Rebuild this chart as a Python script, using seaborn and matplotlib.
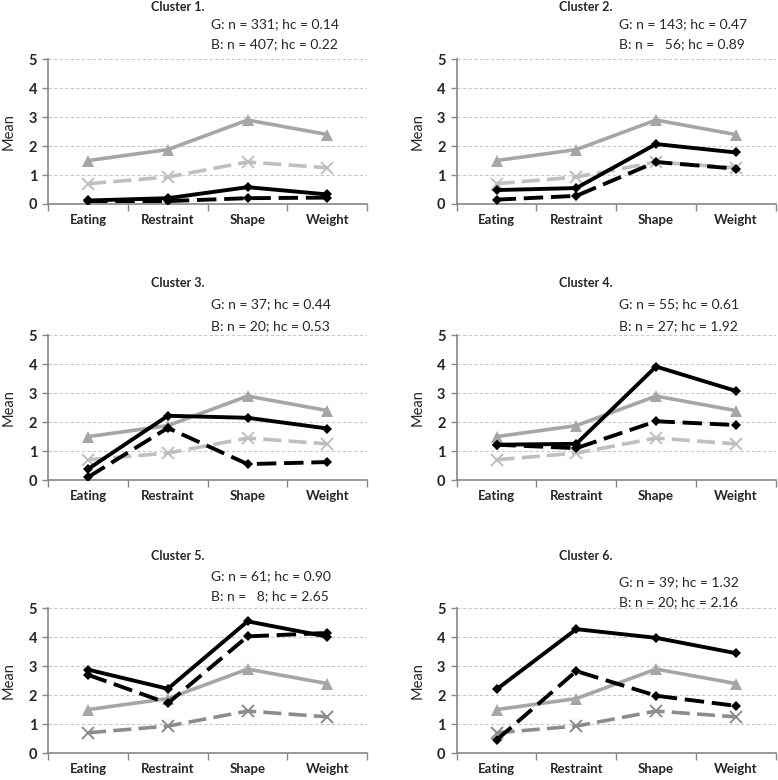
import matplotlib
matplotlib.use("Agg")
import matplotlib.pyplot as plt
import numpy as np
import pandas as pd
import seaborn as sns

# Data
categories = ["Eating", "Restraint", "Shape", "Weight"]
ref_solid = [1.50, 1.88, 2.90, 2.40]      # grey triangles (reference G)
ref_dashed = [0.70, 0.93, 1.45, 1.25]     # grey crosses (reference B)

cluster_titles = ["Cluster 1.", "Cluster 2.", "Cluster 3.",
                  "Cluster 4.", "Cluster 5.", "Cluster 6."]
g_labels = ["G: n = 331; hc = 0.14", "G: n = 143; hc = 0.47", "G: n = 37; hc = 0.44",
            "G: n = 55; hc = 0.61", "G: n = 61; hc = 0.90", "G: n = 39; hc = 1.32"]
b_labels = ["B: n = 407; hc = 0.22", "B: n =   56; hc = 0.89", "B: n = 20; hc = 0.53",
            "B: n = 27; hc = 1.92", "B: n =   8; hc = 2.65", "B: n = 20; hc = 2.16"]

girls = [
    [0.12, 0.20, 0.58, 0.33],
    [0.48, 0.55, 2.07, 1.78],
    [0.38, 2.22, 2.15, 1.78],
    [1.22, 1.25, 3.92, 3.08],
    [2.88, 2.22, 4.55, 4.02],
    [2.20, 4.28, 3.98, 3.45],
]
boys = [
    [0.10, 0.10, 0.20, 0.22],
    [0.15, 0.28, 1.45, 1.22],
    [0.10, 1.80, 0.55, 0.62],
    [1.22, 1.10, 2.03, 1.90],
    [2.70, 1.72, 4.03, 4.15],
    [0.45, 2.83, 1.98, 1.63],
]

# layout (figure fractions)
col_left = [0.062, 0.587]
col_width = 0.41
row_bottom = [0.7385, 0.3846, 0.0346]
row_height = 0.1855
label_y = [(1.243, 1.104), (1.243, 1.104), (1.213, 1.062),
           (1.213, 1.062), (1.22, 1.083), (1.18, 1.04)]
cross_colors = ["#bfbfbf", "#bfbfbf", "#bfbfbf", "#bfbfbf", "#8c8c8c", "#8c8c8c"]

sns.set_theme(style="white")
plt.rcParams['font.family'] = ['Lato', 'DejaVu Sans']

fig = plt.figure(figsize=(7.78, 7.80), dpi=100)

x = np.arange(len(categories))
dash = (5, 2)

for i in range(6):
    r, c = divmod(i, 2)
    ax = fig.add_axes([col_left[c], row_bottom[r], col_width, row_height])

    df = pd.DataFrame({"x": x, "ref_g": ref_solid, "ref_b": ref_dashed,
                       "g": girls[i], "b": boys[i]})

    sns.lineplot(data=df, x="x", y="ref_g", ax=ax, color="#a6a6a6", lw=2.6,
                 marker="^", markersize=8, markeredgewidth=0, zorder=3)
    sns.lineplot(data=df, x="x", y="ref_b", ax=ax, color=cross_colors[i], lw=2.6,
                 marker="x", markersize=8, markeredgewidth=1.4,
                 markeredgecolor=cross_colors[i], zorder=3)
    ax.lines[-1].set_dashes(dash)
    sns.lineplot(data=df, x="x", y="g", ax=ax, color="black", lw=2.8,
                 marker="D", markersize=5, markeredgewidth=0, zorder=4)
    sns.lineplot(data=df, x="x", y="b", ax=ax, color="black", lw=2.8,
                 marker="D", markersize=5, markeredgewidth=0, zorder=4)
    ax.lines[-1].set_dashes(dash)

    ax.set_xlim(-0.5, 3.5)
    ax.set_ylim(0, 5)
    ax.set_yticks([0, 1, 2, 3, 4, 5])
    ax.set_xticks(x)
    ax.set_xticklabels(categories, fontweight="bold", fontsize=9.5)
    ax.set_xticks(np.arange(-0.5, 4.0, 1.0), minor=True)
    ax.tick_params(axis="x", which="major", length=0, pad=7)
    ax.tick_params(axis="x", which="minor", length=5, width=1, color="#868686",
                   direction="out", bottom=True)
    ax.tick_params(axis="y", length=4, width=1, color="#868686", left=True,
                   labelsize=10.5, pad=4)
    for lab in ax.get_yticklabels():
        lab.set_fontweight("bold")

    ax.yaxis.grid(True, color="#c8c8c8", linestyle=(0, (3, 2)), lw=0.8)
    ax.set_axisbelow(True)
    for s in ["top", "right"]:
        ax.spines[s].set_visible(False)
    for s in ["left", "bottom"]:
        ax.spines[s].set_color("#868686")
        ax.spines[s].set_linewidth(1.2)

    ax.set_xlabel("")
    ax.set_ylabel("Mean", fontsize=10.5, labelpad=9)

    ax.text(0.405, 1.36, cluster_titles[i], transform=ax.transAxes,
            ha="center", va="center", fontsize=9, fontweight="bold")
    ax.text(0.51, label_y[i][0], g_labels[i], transform=ax.transAxes,
            ha="left", va="center", fontsize=10)
    ax.text(0.51, label_y[i][1], b_labels[i], transform=ax.transAxes,
            ha="left", va="center", fontsize=10)

fig.savefig("out.png", dpi=100, facecolor="white")
